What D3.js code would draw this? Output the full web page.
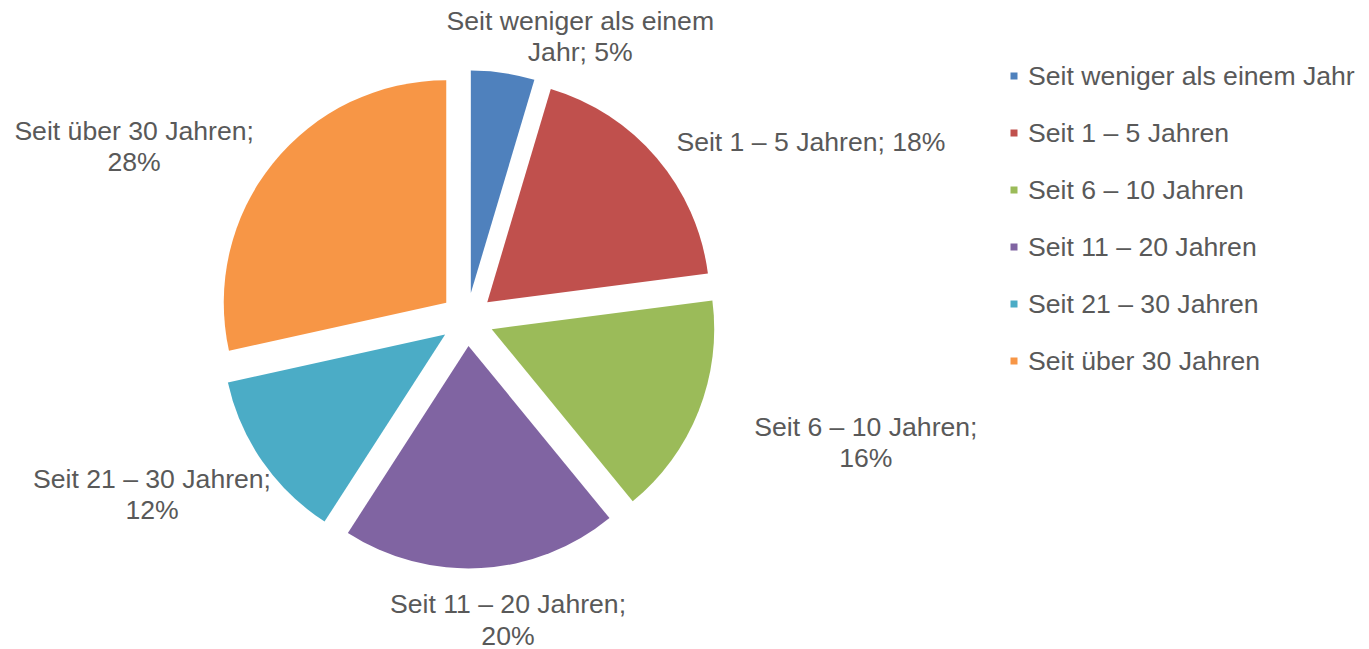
<!DOCTYPE html>
<html>
  <head>
    <meta charset="utf-8">
    <title>Wohndauer</title>
    <style>
      html, body { margin: 0; padding: 0; background: #fff; }
      svg text { font-family: "Liberation Sans", Arial, sans-serif; fill: #595959; }
    </style>
  </head>
  <body>
    <div id="chart"></div>

    <script src="https://d3js.org/d3.v7.min.js"></script>
    <script>
      // data
      const categories = [
        "Seit weniger als einem Jahr",
        "Seit 1 – 5 Jahren",
        "Seit 6 – 10 Jahren",
        "Seit 11 – 20 Jahren",
        "Seit 21 – 30 Jahren",
        "Seit über 30 Jahren"
      ];
      const shares = [4.6, 18.3, 16.1, 20.0, 12.4, 28.4];
      const pctLabels = ["5%", "18%", "16%", "20%", "12%", "28%"];
      const colors = ["#4f81bd", "#c0504d", "#9bbb59", "#8064a2", "#4bacc6", "#f79646"];

      // layout
      const width = 1369, height = 649;
      const center = { x: 467, y: 319.4 };
      const radius = 222.5;
      const explode = 26.6;
      const fontSize = 26.6;
      const lineH = 31.5;
      const labelRadius = 300;
      // Excel "best fit" placement, nudged from the label arc
      const labelNudge = [[70, 13.5], [115.5, 17], [120, 12], [24, 1], [-68.7, 3.4], [-99, 14.6]];
      const wrapWidth = [280, 300, 260, 260, 260, 260];

      const svg = d3.select("#chart")
        .append("svg")
        .attr("width", width)
        .attr("height", height);

      const pie = d3.pie().sort(null).value(d => d.value);
      const arcs = pie(shares.map((v, i) => ({ value: v, i })));

      const arc = d3.arc().innerRadius(0).outerRadius(radius);
      const labelArc = d3.arc().innerRadius(labelRadius).outerRadius(labelRadius);

      const g = svg.append("g")
        .attr("transform", "translate(" + center.x + "," + center.y + ")");

      g.selectAll("path.slice")
        .data(arcs)
        .join("path")
        .attr("class", "slice")
        .attr("d", arc)
        .attr("fill", (d, i) => colors[i])
        .attr("transform", d => {
          const a = (d.startAngle + d.endAngle) / 2;
          return "translate(" + (explode * Math.sin(a)) + "," + (-explode * Math.cos(a)) + ")";
        });

      // word wrap helper using a hidden measuring text
      const measure = svg.append("text").attr("font-size", fontSize).attr("visibility", "hidden");
      const textWidth = s => { measure.text(s); return measure.node().getComputedTextLength(); };
      const wrap = (s, maxW) => {
        const words = s.split(" ");
        const lines = [];
        let cur = "";
        words.forEach(w => {
          const t = cur ? cur + " " + w : w;
          if (cur && textWidth(t) > maxW) { lines.push(cur); cur = w; }
          else cur = t;
        });
        if (cur) lines.push(cur);
        return lines;
      };

      arcs.forEach((d, i) => {
        const [cx, cy] = labelArc.centroid(d);
        const x = cx + labelNudge[i][0];
        const y = cy + labelNudge[i][1];
        const lines = wrap(categories[i] + "; " + pctLabels[i], wrapWidth[i]);
        const t = g.append("text")
          .attr("font-size", fontSize)
          .attr("text-anchor", "middle");
        lines.forEach((l, k) => {
          t.append("tspan")
            .attr("x", x)
            .attr("y", y + (k - (lines.length - 1) / 2) * lineH + 0.35 * fontSize)
            .text(l);
        });
      });
      measure.remove();

      // legend
      const legendY = d3.scalePoint()
        .domain(categories)
        .range([76, 361]);

      const legend = svg.append("g").attr("class", "legend");
      categories.forEach((c, i) => {
        legend.append("rect")
          .attr("x", 1010.5)
          .attr("y", legendY(c) - 3.5)
          .attr("width", 7)
          .attr("height", 7)
          .attr("fill", colors[i]);
        legend.append("text")
          .attr("x", 1028)
          .attr("y", legendY(c) + 0.35 * fontSize)
          .attr("font-size", fontSize)
          .text(c);
      });
    </script>
  </body>
</html>
